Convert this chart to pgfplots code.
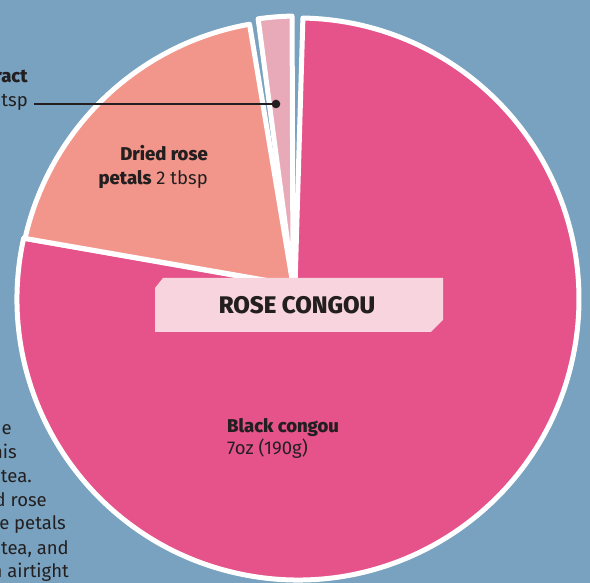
\documentclass[border=0pt]{standalone}
\usepackage{pgfplots}
\pgfplotsset{compat=1.18}
\usepackage{fontspec}
\setmainfont{Fira Sans}[BoldFont={Fira Sans ExtraBold}]
\definecolor{bg}{HTML}{78A2C0}
\definecolor{congou}{HTML}{E5538A}
\definecolor{petals}{HTML}{F2968C}
\definecolor{extract}{HTML}{E8A9B8}
\definecolor{boxpink}{HTML}{F8D4DE}
\definecolor{ink}{HTML}{231F20}
% slice angles (degrees) derived from shares: congou 78%, petals 18.5%, extract 1.9%
\def\cgStart{167.5}\def\cgEnd{449}
\def\ptStart{100}\def\ptEnd{167.3}
\def\exStart{91.2}\def\exEnd{98.1}
\begin{document}
\begin{tikzpicture}
\begin{axis}[scale only axis, width=590pt, height=583pt,
  xmin=0, xmax=590, ymin=0, ymax=583, hide axis, clip=true]
\fill[bg] (axis cs:0,0) rectangle (axis cs:590,583);
% Black congou
\filldraw[fill=congou, draw=white, line width=5pt, line join=round]
  (axis cs:295,297) -- ([shift={(\cgStart:281)}]axis cs:298,284)
  arc[start angle=\cgStart, end angle=\cgEnd, radius=281] -- cycle;
% Dried rose petals
\filldraw[fill=petals, draw=white, line width=5pt, line join=round]
  (axis cs:293,298) -- ([shift={(\ptStart:279)}]axis cs:298,284)
  arc[start angle=\ptStart, end angle=\ptEnd, radius=280] -- cycle;
% Rose extract
\filldraw[fill=extract, draw=white, line width=5pt, line join=round]
  (axis cs:293,300) -- ([shift={(\exStart:283)}]axis cs:298,284)
  arc[start angle=\exStart, end angle=\exEnd, radius=283] -- cycle;
% title box
\fill[boxpink] (axis cs:155,295) -- (axis cs:163,305) -- (axis cs:443,305)
  -- (axis cs:443,263) -- (axis cs:431,251) -- (axis cs:155,251) -- cycle;
\node[anchor=base, font=\fontsize{24}{30}\selectfont\bfseries, text=ink]
  at (axis cs:297,269) {ROSE CONGOU};
% leader line
\addplot[ink, line width=1.5pt, mark=*, mark size=3.5pt, mark indices={2}]
  coordinates {(34,479) (276,479)};
% labels
\begin{scope}[every node/.style={text=ink, font=\fontsize{18.5}{24}\selectfont, inner sep=0pt}]
\node[anchor=base east] at (axis cs:208,422) {\textbf{Dried rose}};
\node[anchor=base east] at (axis cs:208,398) {\textbf{petals} 2 tbsp};
\node[anchor=base west] at (axis cs:227,150) {\textbf{Black congou}};
\node[anchor=base west] at (axis cs:227,128) {7oz (190g)};
\node[anchor=base east] at (axis cs:28,500) {\textbf{Rose extract}};
\node[anchor=base east] at (axis cs:28,476) {½ tsp};
\node[anchor=base east] at (axis cs:12,148) {Combine the};
\node[anchor=base east] at (axis cs:17,124) {ingredients for this};
\node[anchor=base east] at (axis cs:32,100) {beautiful black tea.};
\node[anchor=base east] at (axis cs:47,76) {Mix the dried rose};
\node[anchor=base east] at (axis cs:66,53) {extract and rose petals};
\node[anchor=base east] at (axis cs:69,28) {into the tea, and};
\node[anchor=base east] at (axis cs:69,5) {store in an airtight};
\end{scope}
\end{axis}
\pgfresetboundingbox
\path[use as bounding box] (current axis.south west) rectangle (current axis.north east);
\end{tikzpicture}
\end{document}
